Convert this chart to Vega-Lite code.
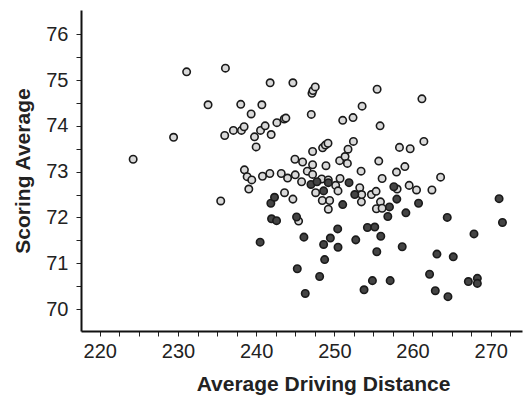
{
  "$schema": "https://vega.github.io/schema/vega-lite/v6.json",
  "width": 441,
  "height": 321,
  "autosize": {"type": "none"},
  "padding": {"left": 81, "top": 10, "right": 6, "bottom": 64},
  "background": "white",
  "config": {
    "view": {"stroke": null},
    "font": "Liberation Sans"
  },
  "data": {
    "values": [
      {"d": 224.27, "s": 73.27, "g": "light"},
      {"d": 229.44, "s": 73.75, "g": "light"},
      {"d": 231.11, "s": 75.18, "g": "light"},
      {"d": 233.85, "s": 74.46, "g": "light"},
      {"d": 236.07, "s": 75.26, "g": "light"},
      {"d": 235.47, "s": 72.36, "g": "light"},
      {"d": 235.98, "s": 73.79, "g": "light"},
      {"d": 237.09, "s": 73.9, "g": "light"},
      {"d": 238.03, "s": 74.47, "g": "light"},
      {"d": 238.12, "s": 73.9, "g": "light"},
      {"d": 238.46, "s": 73.98, "g": "light"},
      {"d": 238.5, "s": 73.04, "g": "light"},
      {"d": 238.85, "s": 72.89, "g": "light"},
      {"d": 239.06, "s": 72.62, "g": "light"},
      {"d": 239.44, "s": 72.82, "g": "light"},
      {"d": 239.36, "s": 74.26, "g": "light"},
      {"d": 239.79, "s": 73.76, "g": "light"},
      {"d": 240.0, "s": 73.54, "g": "light"},
      {"d": 240.56, "s": 73.9, "g": "light"},
      {"d": 241.15, "s": 74.0, "g": "light"},
      {"d": 240.73, "s": 74.46, "g": "light"},
      {"d": 240.81, "s": 72.9, "g": "light"},
      {"d": 241.79, "s": 74.94, "g": "light"},
      {"d": 241.75, "s": 72.96, "g": "light"},
      {"d": 241.92, "s": 73.81, "g": "light"},
      {"d": 242.65, "s": 74.07, "g": "light"},
      {"d": 243.21, "s": 72.96, "g": "light"},
      {"d": 243.59, "s": 74.15, "g": "light"},
      {"d": 243.8, "s": 74.17, "g": "light"},
      {"d": 244.02, "s": 72.86, "g": "light"},
      {"d": 243.63, "s": 72.54, "g": "light"},
      {"d": 244.7, "s": 74.94, "g": "light"},
      {"d": 244.96, "s": 73.27, "g": "light"},
      {"d": 245.0, "s": 72.93, "g": "light"},
      {"d": 244.7, "s": 72.4, "g": "light"},
      {"d": 245.43, "s": 71.92, "g": "light"},
      {"d": 245.94, "s": 73.21, "g": "light"},
      {"d": 245.81, "s": 72.78, "g": "light"},
      {"d": 246.54, "s": 73.01, "g": "light"},
      {"d": 247.05, "s": 74.25, "g": "light"},
      {"d": 247.14, "s": 74.71, "g": "light"},
      {"d": 247.26, "s": 74.77, "g": "light"},
      {"d": 247.56, "s": 74.85, "g": "light"},
      {"d": 247.22, "s": 73.44, "g": "light"},
      {"d": 247.22, "s": 73.15, "g": "light"},
      {"d": 247.22, "s": 72.94, "g": "light"},
      {"d": 247.61, "s": 72.54, "g": "light"},
      {"d": 248.38, "s": 72.84, "g": "light"},
      {"d": 248.46, "s": 72.37, "g": "light"},
      {"d": 248.5, "s": 73.52, "g": "light"},
      {"d": 248.85, "s": 73.58, "g": "light"},
      {"d": 249.19, "s": 73.62, "g": "light"},
      {"d": 248.93, "s": 73.13, "g": "light"},
      {"d": 249.23, "s": 72.82, "g": "light"},
      {"d": 249.4, "s": 72.37, "g": "light"},
      {"d": 249.23, "s": 72.18, "g": "light"},
      {"d": 250.17, "s": 72.7, "g": "light"},
      {"d": 250.47, "s": 72.58, "g": "light"},
      {"d": 250.68, "s": 73.24, "g": "light"},
      {"d": 250.73, "s": 72.85, "g": "light"},
      {"d": 251.07, "s": 74.12, "g": "light"},
      {"d": 251.37, "s": 73.33, "g": "light"},
      {"d": 251.67, "s": 73.18, "g": "light"},
      {"d": 251.75, "s": 73.49, "g": "light"},
      {"d": 252.39, "s": 74.18, "g": "light"},
      {"d": 252.44, "s": 73.66, "g": "light"},
      {"d": 253.25, "s": 72.65, "g": "light"},
      {"d": 253.42, "s": 73.01, "g": "light"},
      {"d": 253.46, "s": 72.34, "g": "light"},
      {"d": 253.55, "s": 74.43, "g": "light"},
      {"d": 253.5, "s": 72.5, "g": "light"},
      {"d": 254.74, "s": 72.5, "g": "light"},
      {"d": 255.34, "s": 72.57, "g": "light"},
      {"d": 255.38, "s": 72.19, "g": "light"},
      {"d": 255.47, "s": 74.8, "g": "light"},
      {"d": 255.68, "s": 73.23, "g": "light"},
      {"d": 255.85, "s": 74.0, "g": "light"},
      {"d": 255.9, "s": 72.34, "g": "light"},
      {"d": 256.11, "s": 72.2, "g": "light"},
      {"d": 256.11, "s": 72.85, "g": "light"},
      {"d": 257.95, "s": 72.99, "g": "light"},
      {"d": 258.03, "s": 72.62, "g": "light"},
      {"d": 258.33, "s": 73.53, "g": "light"},
      {"d": 259.02, "s": 73.11, "g": "light"},
      {"d": 259.7, "s": 73.5, "g": "light"},
      {"d": 259.57, "s": 72.7, "g": "light"},
      {"d": 260.51, "s": 72.6, "g": "light"},
      {"d": 261.2, "s": 74.59, "g": "light"},
      {"d": 261.45, "s": 73.66, "g": "light"},
      {"d": 262.48, "s": 72.6, "g": "light"},
      {"d": 263.59, "s": 72.88, "g": "light"},
      {"d": 240.51, "s": 71.46, "g": "dark"},
      {"d": 241.88, "s": 72.31, "g": "dark"},
      {"d": 242.35, "s": 72.44, "g": "dark"},
      {"d": 241.97, "s": 71.97, "g": "dark"},
      {"d": 242.61, "s": 71.93, "g": "dark"},
      {"d": 245.17, "s": 72.01, "g": "dark"},
      {"d": 245.26, "s": 70.88, "g": "dark"},
      {"d": 246.11, "s": 71.57, "g": "dark"},
      {"d": 246.28, "s": 70.34, "g": "dark"},
      {"d": 247.01, "s": 72.72, "g": "dark"},
      {"d": 247.78, "s": 72.78, "g": "dark"},
      {"d": 248.12, "s": 70.71, "g": "dark"},
      {"d": 248.63, "s": 71.41, "g": "dark"},
      {"d": 248.76, "s": 71.08, "g": "dark"},
      {"d": 248.63, "s": 72.58, "g": "dark"},
      {"d": 249.23, "s": 72.76, "g": "dark"},
      {"d": 249.49, "s": 71.55, "g": "dark"},
      {"d": 250.43, "s": 71.75, "g": "dark"},
      {"d": 250.47, "s": 71.35, "g": "dark"},
      {"d": 251.07, "s": 72.28, "g": "dark"},
      {"d": 251.88, "s": 72.76, "g": "dark"},
      {"d": 252.61, "s": 72.5, "g": "dark"},
      {"d": 252.74, "s": 71.51, "g": "dark"},
      {"d": 253.8, "s": 70.42, "g": "dark"},
      {"d": 254.23, "s": 71.78, "g": "dark"},
      {"d": 254.87, "s": 70.62, "g": "dark"},
      {"d": 255.17, "s": 71.79, "g": "dark"},
      {"d": 255.43, "s": 71.25, "g": "dark"},
      {"d": 255.94, "s": 71.59, "g": "dark"},
      {"d": 256.84, "s": 72.02, "g": "dark"},
      {"d": 257.05, "s": 72.23, "g": "dark"},
      {"d": 257.14, "s": 70.62, "g": "dark"},
      {"d": 257.61, "s": 72.67, "g": "dark"},
      {"d": 257.99, "s": 72.4, "g": "dark"},
      {"d": 258.68, "s": 71.36, "g": "dark"},
      {"d": 259.15, "s": 72.1, "g": "dark"},
      {"d": 260.77, "s": 72.31, "g": "dark"},
      {"d": 262.18, "s": 70.76, "g": "dark"},
      {"d": 263.12, "s": 71.2, "g": "dark"},
      {"d": 262.91, "s": 70.4, "g": "dark"},
      {"d": 264.44, "s": 72.0, "g": "dark"},
      {"d": 264.53, "s": 70.27, "g": "dark"},
      {"d": 265.21, "s": 71.14, "g": "dark"},
      {"d": 267.14, "s": 70.6, "g": "dark"},
      {"d": 267.86, "s": 71.64, "g": "dark"},
      {"d": 268.29, "s": 70.67, "g": "dark"},
      {"d": 268.29, "s": 70.56, "g": "dark"},
      {"d": 271.07, "s": 72.41, "g": "dark"},
      {"d": 271.5, "s": 71.89, "g": "dark"}
    ]
  },
  "mark": {"type": "point", "shape": "circle", "filled": true, "size": 55, "stroke": "#1a1a1a", "strokeWidth": 1.6, "opacity": 1, "fillOpacity": 1, "strokeOpacity": 1},
  "encoding": {
    "x": {
      "field": "d", "type": "quantitative",
      "scale": {"domain": [217.6, 274], "nice": false, "zero": false},
      "axis": {
        "title": "Average Driving Distance",
        "titleFontSize": 21, "titleFontWeight": "bold", "titleColor": "#222", "titlePadding": 12,
        "titleX": 242,
        "values": [220, 222.5, 225, 227.5, 230, 232.5, 235, 237.5, 240, 242.5, 245, 247.5, 250, 252.5, 255, 257.5, 260, 262.5, 265, 267.5, 270, 272.5],
        "format": ".0f",
        "labelExpr": "datum.value % 10 === 0 ? datum.label : ''",
        "labelFontSize": 20, "labelColor": "#222", "labelPadding": 5,
        "tickSize": 5, "tickColor": "#222", "tickWidth": 1,
        "domainColor": "#111", "domainWidth": 2, "grid": false, "labelFlush": false, "labelOverlap": false
      }
    },
    "y": {
      "field": "s", "type": "quantitative",
      "scale": {"domain": [69.52, 76.53], "nice": false, "zero": false},
      "axis": {
        "title": "Scoring Average",
        "titleFontSize": 21, "titleFontWeight": "bold", "titleColor": "#222", "titlePadding": 12,
        "values": [70, 70.5, 71, 71.5, 72, 72.5, 73, 73.5, 74, 74.5, 75, 75.5, 76],
        "format": ".0f",
        "labelExpr": "datum.value % 1 === 0 ? datum.label : ''",
        "labelFontSize": 20, "labelColor": "#222", "labelPadding": 8,
        "tickSize": 5, "tickColor": "#222", "tickWidth": 1,
        "domainColor": "#111", "domainWidth": 2, "grid": false, "labelFlush": false, "labelOverlap": false
      }
    },
    "fill": {
      "field": "g", "type": "nominal",
      "scale": {"domain": ["light", "dark"], "range": ["#d9d9d9", "#444444"]},
      "legend": null
    }
  }
}
